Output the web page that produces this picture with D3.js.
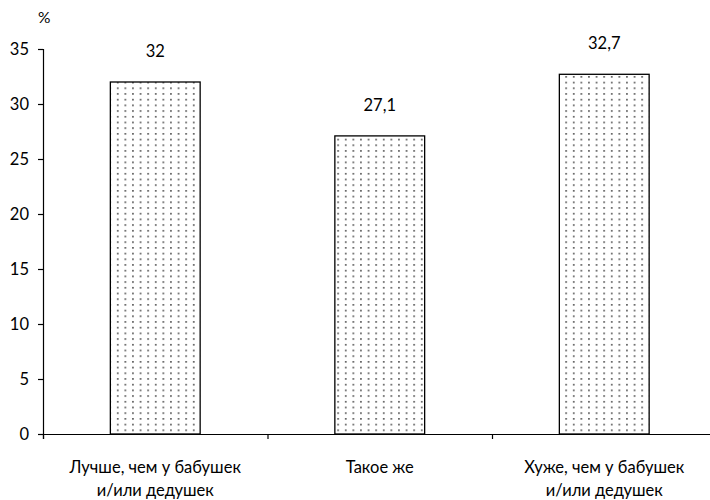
<!DOCTYPE html>
<html><head><meta charset="utf-8">
<script src="https://cdn.jsdelivr.net/npm/d3@7"></script>
<style>body{margin:0;background:#fff}svg{display:block}text{font-family:Lato,"Open Sans",sans-serif;fill:#000}</style>
</head><body>
<script>
const categories = [["Лучше, чем у бабушек","и/или дедушек"],["Такое же"],["Хуже, чем у бабушек","и/или дедушек"]];
const values = [32, 27.1, 32.7];
const valueLabels = ["32", "27,1", "32,7"];
const yTicks = [0,5,10,15,20,25,30,35];
const yUnit = "%";

const W = 710, H = 500;
const svg = d3.select("body").append("svg").attr("width", W).attr("height", H);
const defs = svg.append("defs");
const pat = defs.append("pattern").attr("id","dots").attr("patternUnits","userSpaceOnUse")
  .attr("width",7.6).attr("height",5.7);
pat.append("rect").attr("width",7.6).attr("height",5.7).attr("fill","#fff");
pat.append("rect").attr("x",3).attr("y",2).attr("width",1.5).attr("height",1.5).attr("fill","#333");

const x0 = 43, x1 = 716.5, yTop = 49, yBot = 434;
const x = d3.scaleBand().domain(d3.range(values.length)).range([x0, x1]).paddingInner(0.6).paddingOuter(0.3);
const y = d3.scaleLinear().domain([0,35]).range([yBot, yTop]);

// bars
svg.selectAll("rect.bar").data(values).join("rect").attr("class","bar")
  .attr("x",(d,i)=>x(i)).attr("width",x.bandwidth())
  .attr("y",d=>y(d)).attr("height",d=>yBot-y(d))
  .attr("fill","url(#dots)").attr("stroke","#000").attr("stroke-width",1.3);

// y axis
const ya = svg.append("g").attr("transform",`translate(${x0},0)`)
  .call(d3.axisLeft(y).tickValues(yTicks).tickSize(5).tickPadding(9).tickFormat(d3.format("d")));
ya.select(".domain").attr("stroke","#000").attr("stroke-width",1.2);
ya.selectAll(".tick line").attr("stroke","#000").attr("stroke-width",1.2);
ya.selectAll(".tick text").attr("font-size",16.5).attr("font-family","Lato,sans-serif").attr("fill","#000");

// x axis
const xb = d3.scaleLinear().domain([0, values.length]).range([x0, x1]);
const xa = svg.append("g").attr("transform",`translate(0,${yBot})`)
  .call(d3.axisBottom(xb).tickValues(d3.range(values.length+1)).tickSize(5).tickFormat(""));
xa.select(".domain").attr("stroke","#000").attr("stroke-width",1.2);
xa.selectAll(".tick line").attr("stroke","#000").attr("stroke-width",1.2);

// category labels
categories.forEach((lines,i)=>{
  const cx = xb(i+0.5);
  lines.forEach((t,j)=>{
    svg.append("text").attr("x",cx).attr("y",473+j*23).attr("text-anchor","middle")
      .attr("font-size",16.5).text(t);
  });
});

// value labels
svg.selectAll("text.val").data(values).join("text").attr("class","val")
  .attr("x",(d,i)=>x(i)+x.bandwidth()/2).attr("y",d=>y(d)-25)
  .attr("text-anchor","middle").attr("font-size",16.5).text((d,i)=>valueLabels[i]);

svg.append("text").attr("x",38).attr("y",23).attr("font-size",15.5).text(yUnit);
</script>
</body></html>
